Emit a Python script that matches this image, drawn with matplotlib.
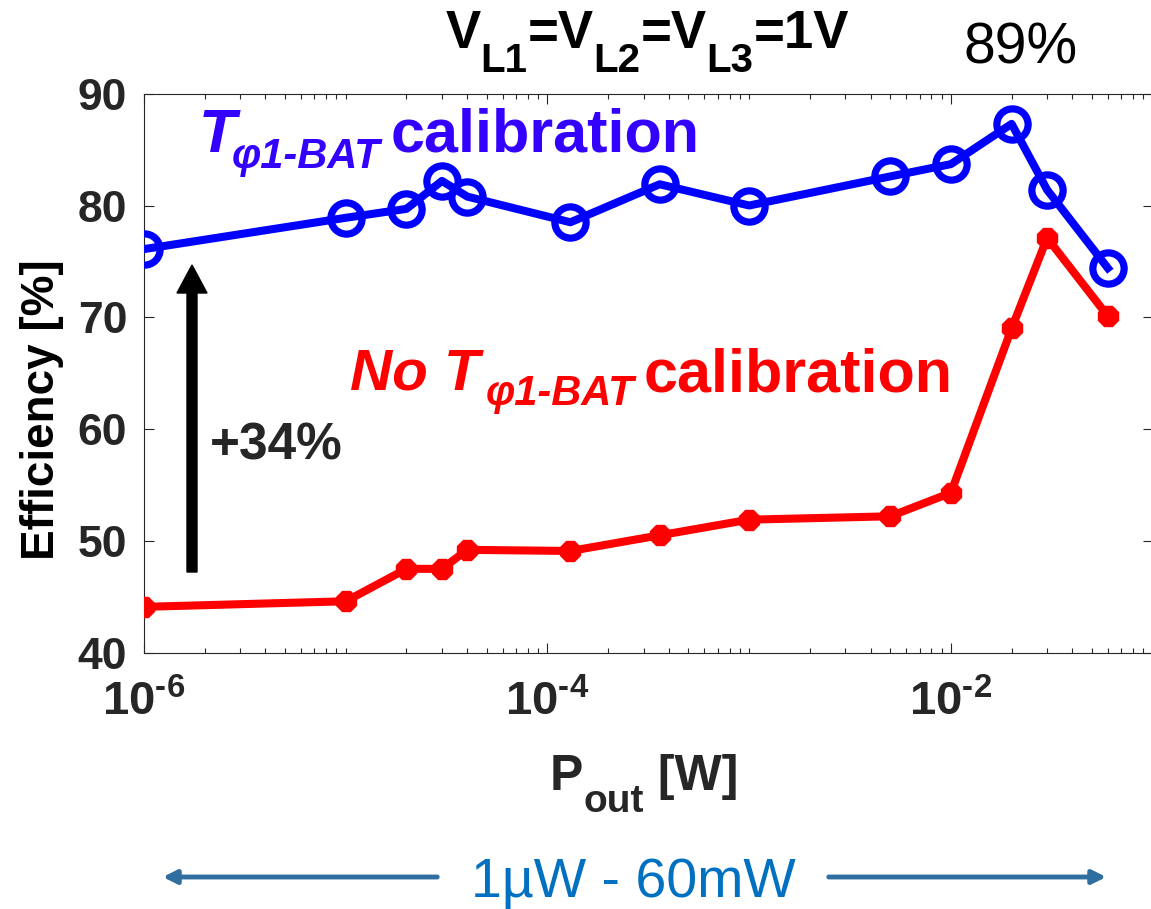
import numpy as np
import matplotlib
matplotlib.use("Agg")
import matplotlib.pyplot as plt
from matplotlib.ticker import FuncFormatter, LogLocator, NullFormatter
from matplotlib.transforms import IdentityTransform
from matplotlib.patches import FancyArrow, FancyArrowPatch

# ---------------- data ----------------
p_out = [1e-6, 1e-5, 2e-5, 3e-5, 4e-5, 1.3e-4, 3.6e-4, 1e-3, 5e-3, 1e-2, 2e-2, 3e-2, 6e-2]
eff_cal = [76.1, 78.9, 79.7, 82.2, 80.8, 78.5, 81.9, 80.0, 82.6, 83.7, 87.3, 81.4, 74.4]
eff_nocal = [44.1, 44.6, 47.5, 47.5, 49.2, 49.1, 50.5, 51.9, 52.2, 54.3, 69.0, 77.1, 70.1]
y_ticks = [40, 50, 60, 70, 80, 90]
x_major = [1e-6, 1e-4, 1e-2]

FONT = "Liberation Sans"
plt.rcParams["font.family"] = [FONT, "DejaVu Sans"]
plt.rcParams["mathtext.fontset"] = "custom"
plt.rcParams["mathtext.rm"] = FONT
plt.rcParams["mathtext.bf"] = FONT + ":bold"
plt.rcParams["mathtext.it"] = FONT + ":italic"

W, H = 1151, 909
fig = plt.figure(figsize=(W / 100, H / 100), dpi=100)
L, R, T, B = 144, 1152.6, 93.7, 652.7
ax = fig.add_axes([L / W, 1 - B / H, (R - L) / W, (B - T) / H])

ax.plot(p_out, eff_nocal, color="#FF0000", lw=5.8, marker="8", ms=16,
        mfc="#FF0000", mec="#FF0000", zorder=3)
ax.plot(p_out, eff_cal, color="#0000FF", lw=5.8, marker="o", ms=22.5,
        mfc="none", mec="#0000FF", mew=5.2, zorder=4)

ax.set_xscale("log")
ax.set_xlim(1e-6, 1e-1)
ax.set_ylim(40, 90)
ax.set_yticks(y_ticks)
ax.set_yticklabels([str(v) for v in y_ticks])
ax.set_xticks(x_major)
ax.xaxis.set_major_formatter(FuncFormatter(
    lambda v, p: "$\\mathbf{10^{\u2010%d}}$" % abs(int(round(np.log10(v))))))
ax.xaxis.set_minor_locator(LogLocator(base=10, subs=np.arange(1, 10), numticks=50))
ax.xaxis.set_minor_formatter(NullFormatter())

for s in ax.spines.values():
    s.set_color("#262626")
    s.set_linewidth(0.8)
ax.tick_params(which="both", direction="in", top=True, right=True,
               color="#262626", width=0.8, labelcolor="#262626")
ax.tick_params(which="major", length=7.2)
ax.tick_params(which="minor", length=3.6)
ax.tick_params(axis="y", labelsize=32, pad=12)
ax.tick_params(axis="x", labelsize=34, pad=20)
for lbl in ax.get_yticklabels():
    lbl.set_fontweight("bold")

renderer = fig.canvas.get_renderer()
ID = IdentityTransform()


def put(x, y, s, size, weight="bold", style="normal", color="black", ha="left", **kw):
    return fig.text(x, H - y, s, transform=ID, fontsize=size, fontweight=weight,
                    fontstyle=style, color=color, ha=ha, va="baseline", **kw)


def runs(xc, y, items):
    arts = []
    total = 0
    for s, size, weight, style, color, dy in items:
        t = put(0, y + dy, s, size, weight, style, color)
        w = t.get_window_extent(renderer).width
        arts.append((t, w, dy))
        total += w
    x = xc - total / 2
    for t, w, dy in arts:
        t.set_position((x, H - (y + dy)))
        x += w


# title
runs(647, 48, [("V", 38, "bold", "normal", "black", 0),
               ("L1", 29, "bold", "normal", "black", 24),
               ("=V", 38, "bold", "normal", "black", 0),
               ("L2", 29, "bold", "normal", "black", 24),
               ("=V", 38, "bold", "normal", "black", 0),
               ("L3", 29, "bold", "normal", "black", 24),
               ("=1V", 38, "bold", "normal", "black", 0)])
put(964, 64, "89%", 41, weight="normal")

# blue annotation
BLUE_TXT = "#3300FF"
put(199, 152, "T", 44, style="italic", color=BLUE_TXT)
put(232, 168, "\u03c61-BAT", 30, style="italic", color=BLUE_TXT)
put(391, 152, "calibration", 44, color=BLUE_TXT)

# red annotation
put(350, 389, "No T", 42, style="italic", color="#FF0000")
put(486, 405, "\u03c61-BAT", 30, style="italic", color="#FF0000")
put(644, 391, "calibration", 44, color="#FF0000")

# +34% arrow
fig.add_artist(FancyArrow(192, H - 572, 0, 572 - 265, width=10, head_width=30,
                          head_length=28, length_includes_head=True,
                          color="black", transform=ID))
put(210, 460, "+34%", 37, color="#262626")

# axis labels
fig.text(42, H - 410, "Efficiency [%]", transform=ID, fontsize=33, fontweight="bold",
         rotation=90, ha="center", va="center", color="black")
runs(644, 790, [("P", 36, "bold", "normal", "#262626", 0),
                ("out", 28, "bold", "normal", "#262626", 22),
                (" [W]", 36, "bold", "normal", "#262626", 0)])

# bottom range annotation
put(633, 897, "1\u00b5W - 60mW", 40, weight="normal", color="#0070C0", ha="center")
ARW = "#2F6E9E"
for x0, x1 in [(440, 160), (826, 1109)]:
    fig.add_artist(FancyArrowPatch((x0, H - 877), (x1, H - 877), transform=ID,
                                   arrowstyle="-|>,head_width=4,head_length=8",
                                   mutation_scale=1, lw=3.5, color=ARW))

fig.savefig("out.png", dpi=100)
